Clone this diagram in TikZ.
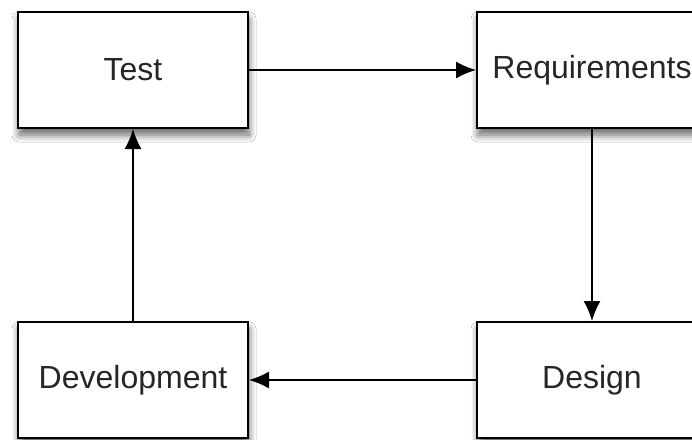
\documentclass[tikz,border=0pt]{standalone}
\usepackage{fontspec}
\setmainfont{Liberation Sans}
\usetikzlibrary{arrows.meta,shadows.blur}
\begin{document}
\begin{tikzpicture}[x=1pt,y=-1pt,
  stagebox/.style={draw=black,line width=2pt,fill=white,minimum width=230pt,minimum height=116pt,
    inner sep=0pt,font=\fontsize{32}{38}\selectfont,text=black!85,
    blur shadow={shadow xshift=1pt,shadow yshift=-7pt,shadow blur radius=7pt,shadow blur steps=10,shadow opacity=60}},
  flow/.style={line width=1.6pt,-{Latex[length=20pt,width=17pt]}}]
\useasboundingbox (0,0) rectangle (692,439);
\clip (0,0) rectangle (692,439);
\fill[white] (0,0) rectangle (692,439);
\node[stagebox] (test) at (133,70) {Test};
\node[stagebox] (req) at (592,70) {Requirements};
\node[stagebox] (dev) at (133,380) {Development};
\node[stagebox] (des) at (592,380) {Design};
\draw[flow] (test) -- (req);
\draw[flow] (req) -- (des);
\draw[flow] (des) -- (dev);
\draw[flow] (dev) -- (test);
\end{tikzpicture}
\end{document}
